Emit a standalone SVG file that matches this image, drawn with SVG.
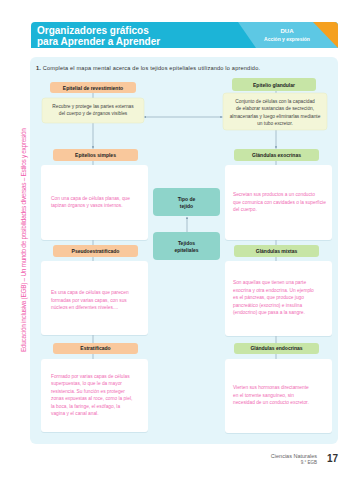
<svg xmlns="http://www.w3.org/2000/svg" width="360" height="480" viewBox="0 0 360 480">
<defs>
<marker id="ah" viewBox="0 0 6 6" refX="5.5" refY="3" markerWidth="4" markerHeight="4" orient="auto-start-reverse">
<path d="M0,0 L6,3 L0,6 z" fill="#7f9bb0"/>
</marker>
<filter id="sh" x="-5%" y="-5%" width="110%" height="115%">
<feDropShadow dx="0" dy="0.6" stdDeviation="0.6" flood-color="#9fc3d0" flood-opacity="0.5"/>
</filter>
</defs>
<style>
text{font-family:"Liberation Sans","DejaVu Sans",sans-serif}
.hd{fill:#fff;font-weight:bold}
.t{font-size:5px;font-weight:bold;fill:#222;text-anchor:middle}
.d{font-size:4.8px;fill:#444;text-anchor:middle}
.p{font-size:4.8px;fill:#f06cb4}
.org{fill:#f9c89c}
.grn{fill:#c7e5a6}
.yel{fill:#f3f6d8;stroke:#e4ebc0;stroke-width:0.5}
.wht{fill:#fff;filter:url(#sh)}
.teal{fill:#8ed4ca}
.ln{stroke:#7f9bb0;stroke-width:0.6;fill:none}
</style>
<rect width="360" height="480" fill="#fff"/>
<!-- header -->
<g id="header">
<path d="M31,26 a4,4 0 0 1 4,-4 h299 a4,4 0 0 1 4,4 v22 h-307 z" fill="#1cb4d7"/>
<path d="M238,22 h96 a4,4 0 0 1 4,4 v22 h-82 z" fill="#5dc8e4"/>
<path d="M313,22 h21 a4,4 0 0 1 4,4 v22 z" fill="#f5a01f"/>
<text class="hd" x="37" y="34" font-size="10">Organizadores gráficos</text>
<text class="hd" x="37" y="44.5" font-size="10">para Aprender a Aprender</text>
<text class="hd" x="287" y="33" font-size="6" text-anchor="middle">DUA</text>
<text class="hd" x="287" y="40.5" font-size="5" text-anchor="middle">Acción y expresión</text>
</g>
<!-- side text -->
<text x="26" y="352" font-size="6.5" fill="#f05aac" transform="rotate(-90 26 352)" textLength="224">Educación inclusiva (EGB) – Un mundo de posibilidades diversas – Estilos y expresión</text>
<!-- panel -->
<rect id="panel" x="30" y="57" width="308" height="387" rx="6" fill="#e4f5fa"/>
<text x="36" y="69.5" font-size="5.6" fill="#333" textLength="224"><tspan font-weight="bold">1.</tspan> Completa el mapa mental acerca de los tejidos epiteliales utilizando lo aprendido.</text>
<!-- connectors -->
<g id="connectors">
<line class="ln" x1="93" y1="93" x2="93" y2="98"/>
<line class="ln" x1="93" y1="123" x2="93" y2="148.5" marker-end="url(#ah)"/>
<line class="ln" x1="93" y1="161" x2="93" y2="359"/>
<line class="ln" x1="276" y1="91" x2="276" y2="93"/>
<line class="ln" x1="276" y1="130" x2="276" y2="148.5" marker-end="url(#ah)"/>
<line class="ln" x1="276" y1="161" x2="276" y2="359"/>
<line class="ln" x1="144" y1="117" x2="222.5" y2="117" marker-start="url(#ah)" marker-end="url(#ah)"/>
<line class="ln" x1="187" y1="232" x2="187" y2="217" marker-end="url(#ah)"/>
</g>
<!-- left column -->
<g id="n-epitelial-revestimiento">
<rect class="org" x="50" y="82" width="86" height="11" rx="3"/>
<text class="t" x="93" y="89.5">Epitelial de revestimiento</text>
</g>
<g id="n-recubre">
<rect class="yel" x="42" y="98" width="102" height="25" rx="3"/>
<text class="d" x="93" y="108">Recubre y protege las partes externas</text>
<text class="d" x="93" y="114.5">del cuerpo y de órganos visibles</text>
</g>
<g id="n-simples">
<rect class="org" x="53" y="149" width="85" height="12" rx="3"/>
<text class="t" x="95.5" y="156.8">Epitelios simples</text>
</g>
<g id="n-simples-desc">
<rect class="wht" x="41" y="165" width="107" height="75" rx="3"/>
<text class="p" x="51" y="200">Con una capa de células planas, que</text>
<text class="p" x="51" y="207">tapizan órganos y vasos internos.</text>
</g>
<g id="n-pseudo">
<rect class="org" x="53" y="245" width="85" height="12" rx="3"/>
<text class="t" x="95.5" y="252.8">Pseudoestratificado</text>
</g>
<g id="n-pseudo-desc">
<rect class="wht" x="41" y="261" width="107" height="74" rx="3"/>
<text class="p" x="51" y="294">Es una capa de células que parecen</text>
<text class="p" x="51" y="301.5">formadas por varias capas, con sus</text>
<text class="p" x="51" y="309">núcleos en diferentes niveles....</text>
</g>
<g id="n-estratificado">
<rect class="org" x="53" y="343" width="85" height="11" rx="3"/>
<text class="t" x="95.5" y="350.3">Estratificado</text>
</g>
<g id="n-estratificado-desc">
<rect class="wht" x="41" y="359" width="107" height="73" rx="3"/>
<text class="p" x="51" y="378">Formado por varias capas de células</text>
<text class="p" x="51" y="385">superpuestas, lo que le da mayor</text>
<text class="p" x="51" y="392.5">resistencia. Su función es proteger</text>
<text class="p" x="51" y="400">zonas expuestas al roce, como la piel,</text>
<text class="p" x="51" y="407.5">la boca, la faringe, el esófago, la</text>
<text class="p" x="51" y="415">vagina y el canal anal.</text>
</g>
<!-- middle -->
<g id="n-tipo">
<rect class="teal" x="153" y="188" width="67" height="28" rx="4"/>
<text class="t" x="186.5" y="200.5">Tipo de</text>
<text class="t" x="186.5" y="207.5">tejido</text>
</g>
<g id="n-tejidos">
<rect class="teal" x="153" y="232" width="67" height="28" rx="4"/>
<text class="t" x="186.5" y="244.5">Tejidos</text>
<text class="t" x="186.5" y="251.5">epiteliales</text>
</g>
<!-- right column -->
<g id="n-glandular">
<rect class="grn" x="232" y="78" width="84" height="13" rx="3"/>
<text class="t" x="274" y="86.5">Epitelio glandular</text>
</g>
<g id="n-conjunto">
<rect class="yel" x="223" y="93" width="104" height="37" rx="3"/>
<text class="d" x="275" y="103">Conjunto de células con la capacidad</text>
<text class="d" x="275" y="110.3">de elaborar sustancias de secreción,</text>
<text class="d" x="275" y="117.6">almacenarlas y luego eliminarlas mediante</text>
<text class="d" x="275" y="125">un tubo excretor.</text>
</g>
<g id="n-exocrinas">
<rect class="grn" x="234" y="149" width="85" height="12" rx="3"/>
<text class="t" x="276.5" y="156.8">Glándulas exocrinas</text>
</g>
<g id="n-exocrinas-desc">
<rect class="wht" x="225" y="165" width="107" height="75" rx="3"/>
<text class="p" x="233" y="196">Secretan sus productos a un conducto</text>
<text class="p" x="233" y="203.5">que comunica con cavidades o la superficie</text>
<text class="p" x="233" y="211">del cuerpo.</text>
</g>
<g id="n-mixtas">
<rect class="grn" x="234" y="245" width="85" height="12" rx="3"/>
<text class="t" x="276.5" y="252.8">Glándulas mixtas</text>
</g>
<g id="n-mixtas-desc">
<rect class="wht" x="225" y="261" width="107" height="75" rx="3"/>
<text class="p" x="233" y="284">Son aquellas que tienen una parte</text>
<text class="p" x="233" y="291.5">exocrina y otra endocrina. Un ejemplo</text>
<text class="p" x="233" y="299">es el páncreas, que produce jugo</text>
<text class="p" x="233" y="306.5">pancreático (exocrino) e insulina</text>
<text class="p" x="233" y="314">(endocrino) que pasa a la sangre.</text>
</g>
<g id="n-endocrinas">
<rect class="grn" x="234" y="343" width="85" height="11" rx="3"/>
<text class="t" x="276.5" y="350.3">Glándulas endocrinas</text>
</g>
<g id="n-endocrinas-desc">
<rect class="wht" x="225" y="359" width="107" height="74" rx="3"/>
<text class="p" x="233" y="389">Vierten sus hormonas directamente</text>
<text class="p" x="233" y="396.5">en el torrente sanguíneo, sin</text>
<text class="p" x="233" y="404">necesidad de un conducto excretor.</text>
</g>
<!-- footer -->
<g id="footer">
<text x="317" y="458" font-size="5.5" fill="#666" text-anchor="end">Ciencias Naturales</text>
<text x="317" y="463.5" font-size="4.5" fill="#666" text-anchor="end">9.° EGB</text>
<text x="327" y="462" font-size="10" font-weight="bold" fill="#333">17</text>
</g>
</svg>
